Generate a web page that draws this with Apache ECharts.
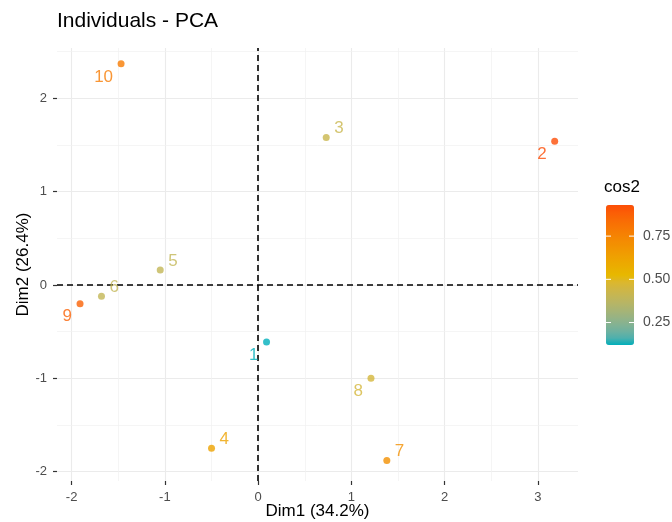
<!DOCTYPE html>
<html><head><meta charset="utf-8">
<script src="https://cdn.jsdelivr.net/npm/echarts@6/dist/echarts.min.js"></script>
<style>html,body{margin:0;padding:0;background:#fff}#c{width:672px;height:522px}</style>
</head><body><div id="c"></div>
<script>
// ---- data ----
const names = ['1','2','3','4','5','6','7','8','9','10'];
const dim1  = [0.09, 3.18, 0.73, -0.50, -1.05, -1.68, 1.38, 1.21, -1.91, -1.47];
const dim2  = [-0.61, 1.54, 1.58, -1.75, 0.16, -0.12, -1.88, -1.00, -0.20, 2.37];
const cos2  = [0.12, 0.93, 0.42, 0.62, 0.40, 0.40, 0.70, 0.46, 0.87, 0.78];
const labelSide = ['ll','ll','ur','ur','ur','ur','ur','ll','ll','ll'];
const xTicks = [-2, -1, 0, 1, 2, 3];
const yTicks = [-2, -1, 0, 1, 2];
const xMinor = [-1.5, -0.5, 0.5, 1.5, 2.5];
const yMinor = [-1.5, -0.5, 0.5, 1.5, 2.5];
const legendTicks = [0.25, 0.50, 0.75];
const gradientCols = ['#00AFBB', '#E7B800', '#FC4E07'];

// ---- colour helpers (Lab interpolation, like ggplot2) ----
const cMin = Math.min(...cos2), cMax = Math.max(...cos2);
function hex2rgb(h){return [1,3,5].map(i=>parseInt(h.substr(i,2),16)/255);}
function lin(c){return c<=0.04045? c/12.92 : Math.pow((c+0.055)/1.055,2.4);}
function delin(c){return c<=0.0031308? 12.92*c : 1.055*Math.pow(c,1/2.4)-0.055;}
const WP=[0.95047,1,1.08883];
function f(t){return t>0.008856? Math.cbrt(t) : 7.787*t+16/116;}
function finv(t){return t>0.206893? t*t*t : (t-16/116)/7.787;}
function rgb2lab(rgb){
  const [r,g,b]=rgb.map(lin);
  const X=(0.4124*r+0.3576*g+0.1805*b)/WP[0], Y=(0.2126*r+0.7152*g+0.0722*b)/WP[1], Z=(0.0193*r+0.1192*g+0.9505*b)/WP[2];
  const fx=f(X), fy=f(Y), fz=f(Z);
  return [116*fy-16, 500*(fx-fy), 200*(fy-fz)];
}
function lab2rgb(lab){
  const fy=(lab[0]+16)/116, fx=fy+lab[1]/500, fz=fy-lab[2]/200;
  const X=finv(fx)*WP[0], Y=finv(fy)*WP[1], Z=finv(fz)*WP[2];
  const r= 3.2406*X-1.5372*Y-0.4986*Z, g=-0.9689*X+1.8758*Y+0.0415*Z, b=0.0557*X-0.2040*Y+1.0570*Z;
  return [r,g,b].map(c=>Math.max(0,Math.min(255,Math.round(delin(Math.max(0,c))*255))));
}
const labs = gradientCols.map(h=>rgb2lab(hex2rgb(h)));
function colorAt(t){
  t=Math.max(0,Math.min(1,t));
  const seg = t <= 0.5 ? 0 : 1;
  const lt = seg === 0 ? t / 0.5 : (t - 0.5) / 0.5;
  const a=labs[seg], b=labs[seg+1];
  const c = lab2rgb(a.map((x,i)=>x+(b[i]-x)*lt));
  return 'rgb(' + c.join(',') + ')';
}
function colorFor(v){return colorAt((v - cMin) / (cMax - cMin));}
const barStops = [];
for(let k=0;k<=20;k++) barStops.push(colorAt(k/20));

const FONT = 'Liberation Sans, Arial, sans-serif';

const pts = names.map((n,i)=>{
  const col = colorFor(cos2[i]);
  const ur = labelSide[i] === 'ur';
  return {
    value: [dim1[i], dim2[i], cos2[i]],
    name: n,
    itemStyle: {color: col},
    label: {
      show: true, formatter: n, color: col, fontSize: 17, fontFamily: FONT,
      position: 'inside', align: ur ? 'left' : 'right', verticalAlign: 'middle',
      offset: ur ? [8, -9] : [-8, 13]
    }
  };
});

const gridLines = [];
xTicks.forEach(v=>gridLines.push({xAxis: v, lineStyle:{color:'#ebebeb', width:1.1, type:'solid'}}));
yTicks.forEach(v=>gridLines.push({yAxis: v, lineStyle:{color:'#ebebeb', width:1.1, type:'solid'}}));
xMinor.forEach(v=>gridLines.push({xAxis: v, lineStyle:{color:'#f1f1f1', width:0.7, type:'solid'}}));
yMinor.forEach(v=>gridLines.push({yAxis: v, lineStyle:{color:'#f1f1f1', width:0.7, type:'solid'}}));

// colorbar geometry
const cbLeft = 606, cbTop = 205, cbW = 28, cbH = 140;
const graphics = [];
legendTicks.forEach(v=>{
  const y = cbTop + (cMax - v) / (cMax - cMin) * cbH;
  graphics.push({type:'line', shape:{x1:cbLeft, y1:y, x2:cbLeft+5, y2:y}, style:{stroke:'#fff', lineWidth:1}, z:100});
  graphics.push({type:'line', shape:{x1:cbLeft+cbW-5, y1:y, x2:cbLeft+cbW, y2:y}, style:{stroke:'#fff', lineWidth:1}, z:100});
  graphics.push({type:'text', x: cbLeft+cbW+9, y: y, style:{text: v.toFixed(2), fill:'#4d4d4d', font: '14px ' + FONT, textVerticalAlign:'middle', textAlign:'left'}, z:100});
});
graphics.push({type:'text', x: 604, y: 187, style:{text:'cos2', fill:'#000', font:'17px ' + FONT, textVerticalAlign:'middle', textAlign:'left'}});

const chart = echarts.init(document.getElementById('c'), null, {renderer:'canvas'});
chart.setOption({
  animation: false,
  backgroundColor: '#fff',
  title: {text:'Individuals - PCA', left: 57, top: 11, padding: 0,
    textStyle:{fontSize:21, fontWeight:'normal', color:'#000', fontFamily: FONT}},
  grid: {left:57, right:94, top:48, bottom:41, containLabel:false, outerBoundsMode:'none'},
  xAxis: {
    type:'value', min:-2.157, max:3.43,
    splitLine:{show:false},
    axisLine:{show:false, onZero:false},
    axisTick:{show:true, customValues:xTicks, length:4, lineStyle:{color:'#333', width:1.2}},
    axisLabel:{customValues:xTicks, color:'#4d4d4d', fontSize:13, margin:10, fontFamily:FONT},
    name:'Dim1 (34.2%)', nameLocation:'middle', nameGap:22, nameMoveOverlap:false,
    nameTextStyle:{fontSize:17, color:'#000', fontFamily:FONT}
  },
  yAxis: {
    type:'value', min:-2.10, max:2.54,
    splitLine:{show:false},
    axisLine:{show:false, onZero:false},
    axisTick:{show:true, customValues:yTicks, length:4, lineStyle:{color:'#333', width:1.2}},
    axisLabel:{customValues:yTicks, color:'#4d4d4d', fontSize:13, margin:10, fontFamily:FONT},
    name:'Dim2 (26.4%)', nameLocation:'middle', nameGap:25, nameRotate:90, nameMoveOverlap:false,
    nameTextStyle:{fontSize:17, color:'#000', fontFamily:FONT}
  },
  visualMap: {
    type:'continuous', min:cMin, max:cMax, dimension:2, seriesIndex:2,
    left:cbLeft, top:cbTop, itemWidth:cbW, itemHeight:cbH, padding:0,
    text:['',''], showLabel:false, calculable:false, hoverLink:false,
    inRange:{color: barStops}
  },
  graphic: graphics,
  series: [
    {
      type:'line', data:[], silent:true, z:1,
      markLine:{silent:true, symbol:['none','none'], label:{show:false}, animation:false, data: gridLines}
    },
    {
      type:'line', data:[], silent:true, z:3,
      markLine:{silent:true, symbol:['none','none'], label:{show:false}, animation:false,
        lineStyle:{color:'#000', width:1.6, type:[6,4]},
        data:[{xAxis:0},{yAxis:0}]}
    },
    {
      type:'scatter', data:[], silent:true
    },
    {
      type:'scatter', symbolSize:7, z:5, data: pts
    }
  ]
});
</script></body></html>
